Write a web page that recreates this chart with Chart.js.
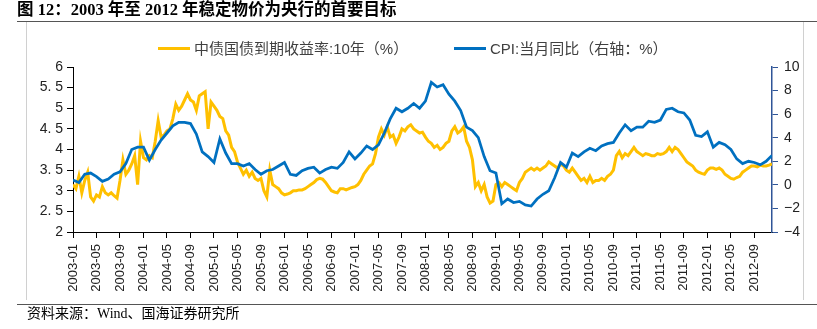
<!DOCTYPE html>
<html>
<head>
<meta charset="utf-8">
<script src="https://cdn.jsdelivr.net/npm/chart.js@4.4.1/dist/chart.umd.min.js"></script>
<style>
  html, body { margin:0; padding:0; background:#fff; width:817px; height:329px; overflow:hidden; }
  #wrap { position:relative; width:817px; height:329px; }
  canvas { position:absolute; left:0; top:0; }
  .abs { position:absolute; white-space:nowrap; }
  #title { left:17px; top:0px; font-family:"Liberation Serif","Noto Sans CJK SC",serif; font-weight:bold; font-size:16.5px; line-height:20px; color:#000; }
  #topline { left:17px; top:21px; width:800px; height:1px; background:#555; }
  #botline { left:17px; top:304px; width:800px; height:1px; background:#555; }
  #lline { left:26px; top:22px; width:1px; height:278px; background:#d0d0d0; }
  #rline { left:803px; top:22px; width:1px; height:278px; background:#d0d0d0; }
  #source { left:27px; top:304px; font-family:"Liberation Serif","Noto Sans CJK SC",serif; font-size:14px; line-height:20px; color:#000; }
  .lg { font-family:"Liberation Sans","Noto Sans CJK SC",sans-serif; font-size:15px; line-height:18px; color:#404040; top:40px; }
  .lgline { height:3px; top:47px; }
</style>
</head>
<body>
<div id="wrap">
  <canvas id="c" width="817" height="329"></canvas>
  <div class="abs" id="title">图 12：2003 年至 2012 年稳定物价为央行的首要目标</div>
  <div class="abs" id="topline"></div>
  <div class="abs" id="lline"></div>
  <div class="abs" id="rline"></div>
  <div class="abs" id="botline"></div>
  <div class="abs lgline" style="left:158px;width:32px;background:#FFC000;"></div>
  <div class="abs lg" style="left:194px;">中债国债到期收益率:10年（%）</div>
  <div class="abs lgline" style="left:454px;width:32px;background:#0070C0;"></div>
  <div class="abs lg" style="left:490px;">CPI:当月同比（右轴：%）</div>
  <div class="abs" id="source">资料来源：Wind、国海证券研究所</div>
</div>
<script>
// X tick labels (every 4 months, month index 0 = 2003-01)
const xTickLabels = [
  '2003-01','2003-05','2003-09','2004-01','2004-05','2004-09',
  '2005-01','2005-05','2005-09','2006-01','2006-05','2006-09',
  '2007-01','2007-05','2007-09','2008-01','2008-05','2008-09',
  '2009-01','2009-05','2009-09','2010-01','2010-05','2010-09',
  '2011-01','2011-05','2011-09','2012-01','2012-05','2012-09'
];
const leftTickLabels = ['2','2. 5','3','3. 5','4','4. 5','5','5. 5','6'];
const rightTickLabels = ['\u22124','\u22122','0','2','4','6','8','10'];

// CPI year-on-year, monthly, 2003-01 .. 2012-12 (right axis, %)
const cpi = [
  0.4, 0.2, 0.9, 1.0, 0.7, 0.3, 0.5, 0.9, 1.1, 1.8, 3.0, 3.2,
  3.2, 2.1, 3.0, 3.8, 4.4, 5.0, 5.3, 5.3, 5.2, 4.3, 2.8, 2.4,
  1.9, 3.9, 2.7, 1.8, 1.8, 1.6, 1.8, 1.3, 0.9, 1.2, 1.3, 1.6,
  1.9, 0.9, 0.8, 1.2, 1.4, 1.5, 1.0, 1.3, 1.5, 1.4, 1.9, 2.8,
  2.2, 2.7, 3.3, 3.0, 3.4, 4.4, 5.6, 6.5, 6.2, 6.5, 6.9, 6.5,
  7.1, 8.7, 8.3, 8.5, 7.7, 7.1, 6.3, 4.9, 4.6, 4.0, 2.4, 1.2,
  1.0, -1.6, -1.2, -1.5, -1.4, -1.7, -1.8, -1.2, -0.8, -0.5, 0.6, 1.9,
  1.5, 2.7, 2.4, 2.8, 3.1, 2.9, 3.3, 3.5, 3.6, 4.4, 5.1, 4.6,
  4.9, 4.9, 5.4, 5.3, 5.5, 6.4, 6.5, 6.2, 6.1, 5.5, 4.2, 4.1,
  4.5, 3.2, 3.6, 3.4, 3.0, 2.2, 1.8, 2.0, 1.9, 1.7, 2.0, 2.5
];

// 10-year government bond yield, read twice per month (left axis, %)
const bond10y = [
  3.15,3.05, 3.35,2.95, 3.25,3.45, 2.85,2.75, 2.9,2.85, 3.1,2.95, 2.9,2.95, 2.88,2.82, 3.25,3.75, 3.4,3.5, 3.65,3.85, 3.15,4.2,
  3.8,3.75, 3.85,3.8, 4.2,4.7, 4.3,4.35, 4.45,4.5, 4.75,5.1, 4.95,5.05, 5.2,5.35, 5.2,5.15, 4.95,5.3, 5.35,5.4, 4.5,5.15,
  5.05,4.95, 4.8,4.75, 4.45,4.35, 4.05,3.95, 3.7,3.55, 3.4,3.5, 3.35,3.45, 3.3,3.25, 3.3,3.0, 2.85,3.5, 3.15,3.1, 3.05,2.95,
  2.9,2.92, 2.95,3.0, 3.0,3.02, 3.02,3.05, 3.1,3.15, 3.2,3.27, 3.3,3.28, 3.2,3.1, 3.0,2.97, 2.95,3.05, 3.05,3.02, 3.05,3.08,
  3.1,3.15, 3.25,3.4, 3.5,3.6, 3.65,3.9, 4.3,4.5, 4.35,4.55, 4.3,4.35, 4.15,4.3, 4.5,4.45, 4.55,4.6, 4.5,4.45, 4.4,4.42,
  4.3,4.2, 4.15,4.05, 4.1,4.0, 4.05,4.15, 4.2,4.45, 4.55,4.4, 4.45,4.55, 4.2,4.05, 3.75,3.1, 3.2,3.0, 3.15,2.85, 2.7,2.75,
  3.15,3.2, 3.1,3.2, 3.15,3.1, 3.05,3.0, 3.2,3.3, 3.45,3.5, 3.55,3.5, 3.55,3.5, 3.55,3.6, 3.7,3.65, 3.6,3.55, 3.65,3.6,
  3.5,3.45, 3.55,3.45, 3.35,3.25, 3.3,3.2, 3.35,3.2, 3.25,3.25, 3.3,3.25, 3.35,3.4, 3.5,3.85, 3.95,3.8, 3.9,3.85, 3.95,4.05,
  3.95,3.9, 3.85,3.9, 3.88,3.85, 3.85,3.9, 3.88,3.9, 3.95,4.05, 3.95,4.05, 4.0,3.9, 3.8,3.7, 3.65,3.6, 3.5,3.45, 3.42,3.4,
  3.5,3.55, 3.55,3.52, 3.55,3.5, 3.4,3.35, 3.3,3.28, 3.32,3.35, 3.45,3.5, 3.55,3.6, 3.6,3.58, 3.62,3.6, 3.6,3.62, 3.65
];

const cpiPts = cpi.map((v, i) => ({ x: i, y: v }));
const bondPts = bond10y.map((v, i) => ({ x: i / 2, y: v }));

const tickFont = { family: '"Liberation Sans", Arial, sans-serif', size: 14 };

new Chart(document.getElementById('c'), {
  type: 'line',
  data: {
    datasets: [
      { label: '中债国债到期收益率:10年（%）', data: bondPts, yAxisID: 'yL',
        borderColor: '#FFC000', backgroundColor: '#FFC000', borderWidth: 3,
        pointRadius: 0, tension: 0, order: 1 },
      { label: 'CPI:当月同比（右轴：%）', data: cpiPts, yAxisID: 'yR',
        borderColor: '#0070C0', backgroundColor: '#0070C0', borderWidth: 2.75,
        pointRadius: 0, tension: 0, order: 0 }
    ]
  },
  options: {
    responsive: false,
    animation: false,
    layout: { padding: { left: 0, right: 0, top: 67, bottom: 0 } },
    plugins: { legend: { display: false }, tooltip: { enabled: false } },
    scales: {
      x: {
        type: 'linear', min: 0, max: 119,
        afterBuildTicks: s => { s.ticks = s.ticks.filter(t => t.value % 4 === 0); },
        afterFit: s => { s.height = 97; },
        ticks: { stepSize: 4, autoSkip: false, minRotation: 90, maxRotation: 90, padding: 6,
                 color: '#222', font: { family: '"Liberation Sans", Arial, sans-serif', size: 13 },
                 callback: v => xTickLabels[Math.round(v / 4)] },
        grid: { drawOnChartArea: false, drawTicks: true, tickLength: 6, color: '#000' },
        border: { display: true, color: '#000', width: 1 }
      },
      yL: {
        position: 'left', min: 2, max: 6,
        afterFit: s => { s.width = 73; },
        ticks: { stepSize: 0.5, padding: 4, color: '#222', font: tickFont,
                 callback: v => leftTickLabels[Math.round((v - 2) / 0.5)] },
        grid: { drawOnChartArea: false, drawTicks: true, tickLength: 6, color: '#000' },
        border: { display: true, color: '#000', width: 1 }
      },
      yR: {
        position: 'right', min: -4, max: 10,
        afterFit: s => { s.width = 45; },
        ticks: { stepSize: 2, padding: 6, color: '#222', font: tickFont,
                 callback: v => rightTickLabels[Math.round((v + 4) / 2)] },
        grid: { drawOnChartArea: false, drawTicks: true, tickLength: 6, color: '#2F5597' },
        border: { display: true, color: '#2F5597', width: 1.5 }
      }
    }
  }
});
</script>
</body>
</html>
